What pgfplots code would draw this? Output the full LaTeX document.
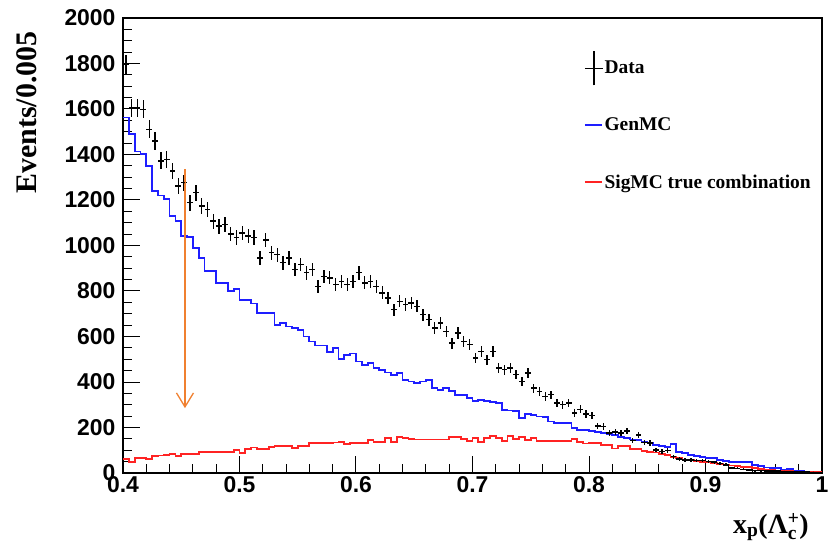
\documentclass[border=0pt]{standalone}
\usepackage{pgfplots}
\pgfplotsset{compat=1.18}
\usepackage{pgfplotstable}
\usepackage{amsmath}
\usepackage{fontspec}
\setmainfont{Liberation Serif}
\newfontfamily\hel{Liberation Sans}
\usetikzlibrary{arrows.meta}
\definecolor{arrowor}{RGB}{240,128,48}
\definecolor{rootblue}{RGB}{30,30,255}
\definecolor{rootred}{RGB}{255,35,35}

\pgfplotstableread{
lo xc data gen sig
0.400 0.4025 1795 1563 60
0.405 0.4075 1606 1489 50
0.410 0.4125 1606 1413 67
0.415 0.4175 1599 1402 67
0.420 0.4225 1511 1349 60
0.425 0.4275 1460 1239 75
0.430 0.4325 1372 1220 77
0.435 0.4375 1379 1203 79
0.440 0.4425 1327 1129 85
0.445 0.4475 1261 1107 75
0.450 0.4525 1276 1041 82
0.455 0.4575 1188 1038 82
0.460 0.4625 1232 990 82
0.465 0.4675 1174 946 94
0.470 0.4725 1159 887 94
0.475 0.4775 1107 887 94
0.480 0.4825 1085 835 94
0.485 0.4875 1093 835 94
0.490 0.4925 1050 799 94
0.495 0.4975 1035 809 102
0.500 0.5025 1055 762 87
0.505 0.5075 1042 762 106
0.510 0.5125 1035 745 112
0.515 0.5175 945 703 104
0.520 0.5225 1025 703 104
0.525 0.5275 968 703 114
0.530 0.5325 960 652 119
0.535 0.5375 924 659 119
0.540 0.5425 945 644 119
0.545 0.5475 894 636 111
0.550 0.5525 916 630 119
0.555 0.5575 880 600 119
0.560 0.5625 894 578 131
0.565 0.5675 821 560 131
0.570 0.5725 865 560 131
0.575 0.5775 858 533 131
0.580 0.5825 828 550 134
0.585 0.5875 843 500 138
0.590 0.5925 828 520 128
0.595 0.5975 843 525 133
0.600 0.6025 880 490 133
0.605 0.6075 836 476 133
0.610 0.6125 843 483 145
0.615 0.6175 821 461 138
0.620 0.6225 792 454 138
0.625 0.6275 770 442 153
0.630 0.6325 718 432 138
0.635 0.6375 755 439 157
0.640 0.6425 740 410 155
0.645 0.6475 748 402 148
0.650 0.6525 733 395 147
0.655 0.6575 696 402 147
0.660 0.6625 674 410 147
0.665 0.6675 637 373 147
0.670 0.6725 659 366 147
0.675 0.6775 623 373 147
0.680 0.6825 571 359 157
0.685 0.6875 615 344 157
0.690 0.6925 578 342 148
0.695 0.6975 564 330 140
0.700 0.7025 505 316 153
0.705 0.7075 535 320 138
0.710 0.7125 498 318 153
0.715 0.7175 535 312 162
0.720 0.7225 461 306 153
0.725 0.7275 454 278 142
0.730 0.7325 461 275 163
0.735 0.7375 432 272 148
0.740 0.7425 402 241 157
0.745 0.7475 439 258 145
0.750 0.7525 373 255 153
0.755 0.7575 358 248 142
0.760 0.7625 336 247 142
0.765 0.7675 344 226 142
0.770 0.7725 307 219 142
0.775 0.7775 300 219 142
0.780 0.7825 307 219 142
0.785 0.7875 263 197 148
0.790 0.7925 280 190 136
0.795 0.7975 260 190 130
0.800 0.8025 252 186 131
0.805 0.8075 207 180 131
0.810 0.8125 204 176 123
0.815 0.8175 175 170 123
0.820 0.8225 180 166 108
0.825 0.8275 175 160 119
0.830 0.8325 185 155 119
0.835 0.8375 142 147 106
0.840 0.8425 167 144 104
0.845 0.8475 134 137 98
0.850 0.8525 132 134 94
0.855 0.8575 101 123 90
0.860 0.8625 94 119 84
0.865 0.8675 100 116 80
0.870 0.8725 72 128 71
0.875 0.8775 62 94 66
0.880 0.8825 57 89 59
0.885 0.8875 57 80 57
0.890 0.8925 54 75 54
0.895 0.8975 55 69 50
0.900 0.9025 50 65 46
0.905 0.9075 48 65 43
0.910 0.9125 43 57 40
0.915 0.9175 36 54 37
0.920 0.9225 22 50 33
0.925 0.9275 21 50 30
0.930 0.9325 16 50 28
0.935 0.9375 13 50 25
0.940 0.9425 10 35 22
0.945 0.9475 10 32 18
0.950 0.9525 9 24 15
0.955 0.9575 8 21 12
0.960 0.9625 8 21 10
0.965 0.9675 7 13 9
0.970 0.9725 6 16 8
0.975 0.9775 5 10 7
0.980 0.9825 5 9 6
0.985 0.9875 4 7 5
0.990 0.9925 3 6 4
0.995 0.9975 2 6 4
1.000 1.0025 1 6 4
}\hist

\pgfplotsset{
  hline legend/.style={legend image code/.code={\draw[##1] (0bp,0bp) -- (17bp,0bp);}},
  cross legend/.style={legend image code/.code={\draw[##1, overlay] (9bp,-17bp) -- (9bp,17bp); \draw[##1] (0bp,0bp) -- (18bp,0bp);}},
}

\begin{document}
\begin{tikzpicture}
\path[use as bounding box] (-123bp,-83bp) rectangle (705bp,473bp);
\begin{axis}[
  scale only axis, width=699bp, height=455bp,
  xmin=0.4, xmax=1, ymin=0, ymax=2000,
  xtick={0.4,0.5,0.6,0.7,0.8,0.9,1},
  xticklabels={0.4,0.5,0.6,0.7,0.8,0.9,1},
  ytick={0,200,...,2000},
  minor x tick num=4, minor y tick num=3,
  tick align=inside, tick pos=left,
  major tick length=17bp, minor tick length=9bp,
  axis line style={line width=1.2bp},
  every tick/.style={black, line width=1bp},
  tick label style={font=\hel\bfseries\fontsize{23}{23}\selectfont},
  /pgf/number format/assume math mode=true,
  /pgf/number format/1000 sep={},
  yticklabel style={xshift=-4bp},
  ylabel={Events/0.005},
  ylabel style={at={(axis description cs:-0.137,0.978)}, anchor=east, font=\bfseries\fontsize{30}{30}\selectfont},
  xlabel={x\textsubscript{p}(Λ$_{\text{c}}^{\text{+}}$)},
  xlabel style={at={(axis description cs:0.986,-0.132)}, anchor=base east, font=\bfseries\fontsize{28}{28}\selectfont},
  legend cell align=left,
  legend style={draw=none, fill=none, at={(axis description cs:0.655,0.912)}, anchor=north west,
    font=\bfseries\fontsize{19.5}{20}\selectfont, row sep=40.5bp, nodes={inner sep=1bp}},
]
\addplot[const plot mark left, rootblue, line width=1.8bp, forget plot] table[x=lo, y=gen] {\hist};
\addplot[const plot mark left, rootred, line width=1.8bp, forget plot] table[x=lo, y=sig] {\hist};
\addplot[only marks, mark=*, mark size=0.4bp, black, forget plot,
  skip coords between index={120}{121},
  error bars/.cd, x dir=both, x fixed=0.0025, y dir=both, y explicit,
  error bar style={line width=1.4bp, black}, error mark=none]
  table[x=xc, y=data, y error expr={sqrt(\thisrow{data})}] {\hist};
\draw[arrowor, line width=1.3bp, -{Straight Barb[length=14bp,width=17bp]}] (axis cs:0.4532,1335) -- (axis cs:0.4532,285);
\addlegendimage{cross legend, black, line width=1.3bp}
\addlegendentry{Data}
\addlegendimage{hline legend, rootblue, line width=1.8bp}
\addlegendentry{GenMC}
\addlegendimage{hline legend, rootred, line width=1.8bp}
\addlegendentry{SigMC true combination}
\end{axis}
\end{tikzpicture}
\end{document}
